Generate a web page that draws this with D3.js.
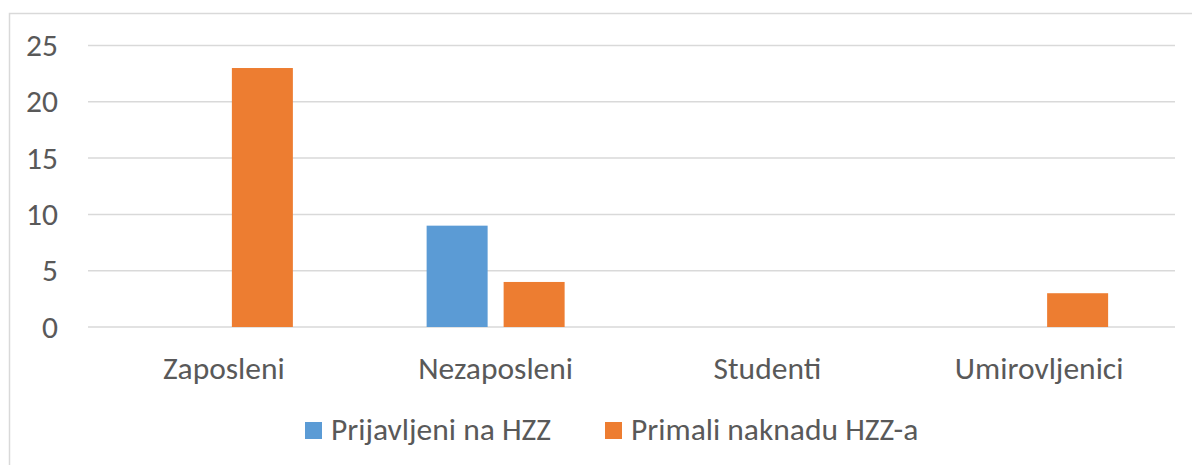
<!DOCTYPE html>
<html><head><meta charset="utf-8">
<script src="https://cdn.jsdelivr.net/npm/d3@7"></script>
<style>html,body{margin:0;padding:0;background:#fff;}svg{display:block;}</style>
</head><body>
<svg id="c" width="1192" height="465"></svg>
<script>
const categories = ["Zaposleni", "Nezaposleni", "Studenti", "Umirovljenici"];
const seriesNames = ["Prijavljeni na HZZ", "Primali naknadu HZZ-a"];
const prijavljeni = [0, 9, 0, 0];
const primali = [23, 4, 0, 3];
const yTicks = [0, 5, 10, 15, 20, 25];
const colors = ["#5B9BD5", "#ED7D31"];

const svg = d3.select("#c");
const font = "Carlito, Calibri, Lato, sans-serif";
const textColor = "#595959";
const fs = 31.5;

// chart border
svg.append("rect").attr("x", 9.5).attr("y", 13.5).attr("width", 1200).attr("height", 470)
  .attr("fill", "none").attr("stroke", "#D9D9D9").attr("stroke-width", 1.5);

const pLeft = 88, pRight = 1175, pTop = 45.5, pBottom = 327;
const x0 = d3.scaleBand().domain(categories).range([pLeft, pRight]).padding(0);
const x1 = d3.scaleBand().domain(seriesNames).range([0, x0.bandwidth()])
  .paddingInner(16/77).paddingOuter(0.8685);
const y = d3.scaleLinear().domain([0, 25]).range([pBottom, pTop]);

// gridlines
svg.append("g").selectAll("line").data(yTicks).join("line")
  .attr("x1", pLeft).attr("x2", pRight)
  .attr("y1", d => y(d)).attr("y2", d => y(d))
  .attr("stroke", "#D9D9D9").attr("stroke-width", 1.5);

// y axis labels
const yAxis = svg.append("g").attr("transform", `translate(${pLeft},0)`)
  .call(d3.axisLeft(y).tickValues(yTicks).tickSize(0).tickPadding(30));
yAxis.select(".domain").remove();
yAxis.selectAll("text").attr("font-family", font).attr("font-size", fs).attr("fill", textColor);

// bars
const data = categories.map((c, i) => ({cat: c, vals: [prijavljeni[i], primali[i]]}));
svg.append("g").selectAll("g").data(data).join("g")
  .attr("transform", d => `translate(${x0(d.cat)},0)`)
  .selectAll("rect").data(d => d.vals.map((v, j) => ({name: seriesNames[j], v, j})))
  .join("rect")
  .attr("x", d => x1(d.name)).attr("width", x1.bandwidth())
  .attr("y", d => y(d.v)).attr("height", d => y(0) - y(d.v))
  .attr("fill", d => colors[d.j]);

// x axis labels
const xAxis = svg.append("g").attr("transform", `translate(0,${pBottom})`)
  .call(d3.axisBottom(x0).tickSize(0).tickPadding(30));
xAxis.select(".domain").remove();
xAxis.selectAll("text").attr("font-family", font).attr("font-size", fs).attr("fill", textColor);

// legend
const legendX = [305, 605];
const lg = svg.append("g");
seriesNames.forEach((n, i) => {
  lg.append("rect").attr("x", legendX[i]).attr("y", 422).attr("width", 17).attr("height", 17).attr("fill", colors[i]);
  lg.append("text").attr("x", legendX[i] + 26).attr("y", 440)
    .attr("font-family", font).attr("font-size", fs).attr("fill", textColor).text(n);
});
</script>
</body></html>
